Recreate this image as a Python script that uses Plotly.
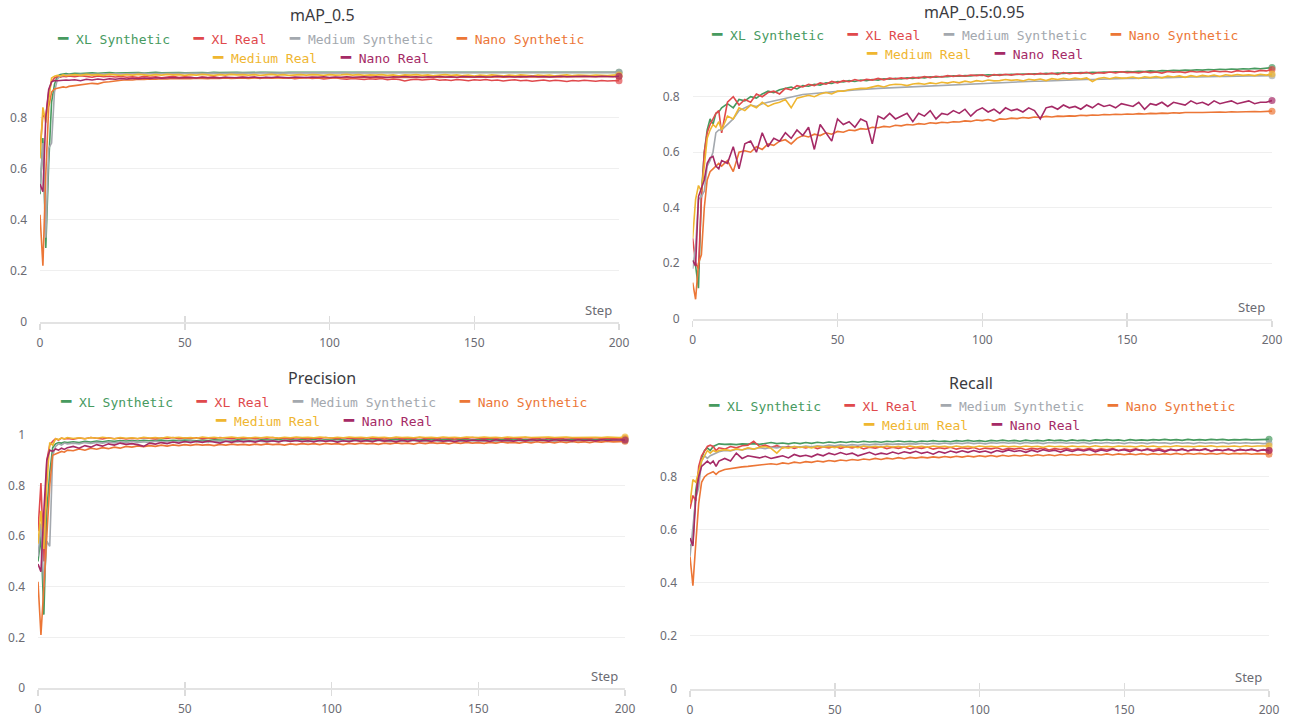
import plotly.graph_objects as go

# ---------------- data ----------------
STEPS = list(range(0, 11)) + list(range(12, 201, 2))

SERIES_NAMES = ["XL Synthetic", "XL Real", "Medium Synthetic", "Nano Synthetic", "Medium Real", "Nano Real"]
ROW1 = ["XL Synthetic", "XL Real", "Medium Synthetic", "Nano Synthetic"]
ROW2 = ["Medium Real", "Nano Real"]
COLORS = {
    "XL Synthetic": "#479A5F",
    "XL Real": "#E0494C",
    "Medium Synthetic": "#A3A8AE",
    "Nano Synthetic": "#EC7636",
    "Medium Real": "#EFB630",
    "Nano Real": "#A52A66",
}
PANEL_TITLES = ["mAP_0.5", "mAP_0.5:0.95", "Precision", "Recall"]
X_TICKS = [0, 50, 100, 150, 200]

# ---- mAP_0.5 ----
MAP50_XL_SYN = [0.50, 0.72, 0.29, 0.62, 0.86, 0.93, 0.962, 0.968, 0.97, 0.972, 0.97,
    0.973, 0.972, 0.974, 0.975, 0.973, 0.975, 0.976, 0.974, 0.975, 0.976,
    0.975, 0.976, 0.974, 0.976, 0.977, 0.975, 0.976, 0.977, 0.976, 0.975,
    0.976, 0.977, 0.976, 0.975, 0.977, 0.976, 0.977, 0.976, 0.977, 0.976,
    0.977, 0.976, 0.977, 0.977, 0.976, 0.977, 0.976, 0.977, 0.977, 0.976,
    0.977, 0.976, 0.977, 0.977, 0.976, 0.977, 0.977, 0.976, 0.977, 0.977,
    0.976, 0.977, 0.977, 0.976, 0.977, 0.977, 0.976, 0.977, 0.977, 0.976,
    0.977, 0.977, 0.976, 0.977, 0.977, 0.977, 0.976, 0.977, 0.977, 0.976,
    0.977, 0.977, 0.976, 0.977, 0.977, 0.977, 0.976, 0.977, 0.977, 0.977,
    0.976, 0.977, 0.977, 0.977, 0.976, 0.977, 0.977, 0.977, 0.976, 0.977,
    0.977, 0.977, 0.976, 0.977, 0.977]
MAP50_XL_REAL = [0.67, 0.81, 0.80, 0.90, 0.94, 0.955, 0.96, 0.958, 0.962, 0.96, 0.963,
    0.96, 0.964, 0.962, 0.958, 0.963, 0.96, 0.962, 0.959, 0.961, 0.958,
    0.96, 0.957, 0.961, 0.958, 0.96, 0.956, 0.959, 0.961, 0.957, 0.96,
    0.958, 0.955, 0.959, 0.957, 0.96, 0.956, 0.958, 0.954, 0.957, 0.959,
    0.956, 0.958, 0.953, 0.957, 0.955, 0.958, 0.954, 0.956, 0.952, 0.955,
    0.957, 0.953, 0.955, 0.951, 0.954, 0.956, 0.952, 0.95, 0.953, 0.951,
    0.949, 0.952, 0.95, 0.953, 0.948, 0.951, 0.949, 0.943, 0.948, 0.95,
    0.947, 0.949, 0.951, 0.946, 0.948, 0.945, 0.949, 0.947, 0.944, 0.948,
    0.946, 0.949, 0.945, 0.947, 0.943, 0.946, 0.948, 0.944, 0.946, 0.942,
    0.945, 0.947, 0.943, 0.946, 0.944, 0.941, 0.945, 0.943, 0.946, 0.944,
    0.942, 0.945, 0.943, 0.944, 0.944]
MAP50_MED_SYN = [0.51, 0.70, 0.33, 0.68, 0.70, 0.90, 0.95, 0.962, 0.965, 0.966, 0.968,
    0.967, 0.969, 0.968, 0.97, 0.969, 0.971, 0.97, 0.972, 0.971, 0.972,
    0.971, 0.972, 0.973, 0.972, 0.973, 0.972, 0.974, 0.973, 0.973, 0.974,
    0.973, 0.974, 0.973, 0.974, 0.974, 0.973, 0.974, 0.975, 0.974, 0.974,
    0.975, 0.974, 0.974, 0.975, 0.974, 0.975, 0.975, 0.974, 0.975, 0.975,
    0.974, 0.975, 0.975, 0.976, 0.975, 0.975, 0.976, 0.975, 0.975, 0.976,
    0.975, 0.976, 0.975, 0.976, 0.976, 0.975, 0.976, 0.976, 0.975, 0.976,
    0.976, 0.975, 0.976, 0.976, 0.976, 0.975, 0.976, 0.976, 0.977, 0.976,
    0.976, 0.977, 0.976, 0.976, 0.977, 0.976, 0.976, 0.977, 0.976, 0.977,
    0.976, 0.977, 0.977, 0.976, 0.977, 0.976, 0.977, 0.977, 0.976, 0.977,
    0.977, 0.976, 0.977, 0.977, 0.977]
MAP50_NANO_SYN = [0.42, 0.22, 0.58, 0.84, 0.90, 0.912, 0.915, 0.918, 0.92, 0.918, 0.922,
    0.925, 0.928, 0.93, 0.934, 0.932, 0.938, 0.94, 0.944, 0.946, 0.948,
    0.947, 0.95, 0.949, 0.951, 0.95, 0.952, 0.951, 0.953, 0.952, 0.953,
    0.952, 0.954, 0.953, 0.952, 0.954, 0.953, 0.955, 0.953, 0.954, 0.955,
    0.953, 0.955, 0.954, 0.956, 0.954, 0.955, 0.956, 0.954, 0.956, 0.955,
    0.956, 0.955, 0.957, 0.955, 0.956, 0.957, 0.955, 0.957, 0.956, 0.957,
    0.956, 0.958, 0.956, 0.957, 0.958, 0.956, 0.958, 0.957, 0.958, 0.957,
    0.958, 0.957, 0.959, 0.957, 0.958, 0.959, 0.957, 0.959, 0.958, 0.959,
    0.958, 0.959, 0.958, 0.96, 0.958, 0.959, 0.96, 0.958, 0.96, 0.959,
    0.96, 0.959, 0.96, 0.96, 0.959, 0.961, 0.96, 0.96, 0.961, 0.96,
    0.961, 0.96, 0.961, 0.96, 0.961]
MAP50_MED_REAL = [0.64, 0.84, 0.78, 0.87, 0.955, 0.962, 0.965, 0.963, 0.967, 0.964, 0.966,
    0.968, 0.965, 0.969, 0.966, 0.968, 0.965, 0.969, 0.967, 0.965, 0.968,
    0.966, 0.969, 0.967, 0.965, 0.968, 0.966, 0.969, 0.967, 0.968, 0.965,
    0.968, 0.966, 0.969, 0.967, 0.965, 0.968, 0.966, 0.969, 0.967, 0.968,
    0.966, 0.968, 0.965, 0.967, 0.969, 0.966, 0.968, 0.965, 0.967, 0.968,
    0.966, 0.968, 0.967, 0.965, 0.968, 0.966, 0.967, 0.969, 0.966, 0.968,
    0.965, 0.967, 0.966, 0.968, 0.965, 0.967, 0.964, 0.967, 0.966, 0.968,
    0.965, 0.967, 0.964, 0.966, 0.968, 0.965, 0.967, 0.964, 0.966, 0.963,
    0.966, 0.964, 0.967, 0.965, 0.963, 0.966, 0.964, 0.967, 0.965, 0.963,
    0.966, 0.964, 0.966, 0.963, 0.965, 0.967, 0.964, 0.966, 0.965, 0.964,
    0.966, 0.965, 0.964, 0.966, 0.967]
MAP50_NANO_REAL = [0.54, 0.51, 0.80, 0.91, 0.94, 0.945, 0.944, 0.946, 0.945, 0.947, 0.946,
    0.948, 0.944, 0.95, 0.947, 0.951, 0.948, 0.952, 0.95, 0.953, 0.951,
    0.954, 0.952, 0.955, 0.953, 0.956, 0.954, 0.955, 0.957, 0.955, 0.956,
    0.957, 0.955, 0.958, 0.956, 0.957, 0.955, 0.958, 0.957, 0.956, 0.958,
    0.957, 0.959, 0.956, 0.958, 0.957, 0.959, 0.958, 0.956, 0.959, 0.958,
    0.957, 0.959, 0.958, 0.96, 0.957, 0.959, 0.958, 0.96, 0.958, 0.959,
    0.96, 0.958, 0.96, 0.959, 0.957, 0.96, 0.959, 0.961, 0.959, 0.96,
    0.958, 0.96, 0.959, 0.961, 0.959, 0.96, 0.958, 0.961, 0.96, 0.959,
    0.961, 0.959, 0.96, 0.962, 0.96, 0.961, 0.959, 0.961, 0.96, 0.962,
    0.96, 0.961, 0.959, 0.961, 0.962, 0.96, 0.961, 0.96, 0.962, 0.961,
    0.96, 0.962, 0.961, 0.96, 0.962]

# ---- mAP_0.5:0.95 ----
MAP95_XL_SYN = [0.21, 0.19, 0.11, 0.45, 0.60, 0.68, 0.72, 0.70, 0.74, 0.745, 0.76,
    0.775, 0.76, 0.79, 0.785, 0.80, 0.795, 0.81, 0.82, 0.815, 0.825,
    0.83, 0.835, 0.828, 0.84, 0.838, 0.845, 0.842, 0.85, 0.848, 0.855,
    0.853, 0.858, 0.855, 0.86, 0.858, 0.862, 0.86, 0.865, 0.863, 0.866,
    0.864, 0.868, 0.866, 0.87, 0.868, 0.872, 0.87, 0.873, 0.872, 0.875,
    0.874, 0.876, 0.875, 0.878, 0.877, 0.879, 0.878, 0.88, 0.879, 0.881,
    0.88, 0.882, 0.881, 0.883, 0.882, 0.884, 0.883, 0.885, 0.884, 0.886,
    0.885, 0.887, 0.886, 0.888, 0.887, 0.889, 0.888, 0.89, 0.889, 0.891,
    0.89, 0.892, 0.891, 0.893, 0.892, 0.894, 0.893, 0.895, 0.894, 0.896,
    0.895, 0.897, 0.896, 0.898, 0.897, 0.899, 0.898, 0.9, 0.899, 0.901,
    0.9, 0.902, 0.901, 0.903, 0.905]
MAP95_XL_REAL = [0.29, 0.20, 0.18, 0.43, 0.60, 0.67, 0.70, 0.72, 0.74, 0.75, 0.67,
    0.78, 0.80, 0.77, 0.79, 0.78, 0.81, 0.80, 0.815, 0.82, 0.81,
    0.83, 0.825, 0.84, 0.835, 0.845, 0.84, 0.85, 0.845, 0.855, 0.85,
    0.858, 0.854, 0.862, 0.857, 0.863, 0.86, 0.866, 0.861, 0.867, 0.864,
    0.868, 0.865, 0.87, 0.867, 0.873, 0.869, 0.874, 0.871, 0.876, 0.873,
    0.877, 0.874, 0.878, 0.876, 0.879, 0.872, 0.88, 0.877, 0.881, 0.878,
    0.882, 0.879, 0.883, 0.88, 0.884, 0.881, 0.885, 0.88, 0.887, 0.883,
    0.886, 0.884, 0.888, 0.882, 0.887, 0.885, 0.889, 0.886, 0.89, 0.887,
    0.888, 0.886, 0.89, 0.887, 0.889, 0.885, 0.891, 0.888, 0.89, 0.887,
    0.892, 0.889, 0.891, 0.888, 0.893, 0.89, 0.892, 0.888, 0.894, 0.891,
    0.893, 0.89, 0.895, 0.893, 0.898]
MAP95_MED_SYN = [0.18, 0.26, 0.43, 0.44, 0.46, 0.55, 0.57, 0.60, 0.67, 0.68, 0.68,
    0.70, 0.72, 0.75, 0.76, 0.77, 0.765, 0.775, 0.78, 0.785, 0.79,
    0.795, 0.80, 0.805, 0.808, 0.81, 0.812, 0.815, 0.817, 0.818, 0.82,
    0.821, 0.823, 0.824, 0.826, 0.827, 0.828, 0.83, 0.831, 0.832, 0.834,
    0.835, 0.836, 0.837, 0.838, 0.839, 0.84, 0.841, 0.842, 0.843, 0.844,
    0.845, 0.846, 0.847, 0.848, 0.849, 0.85, 0.851, 0.851, 0.852, 0.853,
    0.854, 0.854, 0.855, 0.856, 0.856, 0.857, 0.858, 0.858, 0.859, 0.86,
    0.86, 0.861, 0.862, 0.862, 0.863, 0.863, 0.864, 0.865, 0.865, 0.866,
    0.866, 0.867, 0.867, 0.868, 0.868, 0.869, 0.869, 0.87, 0.87, 0.871,
    0.871, 0.871, 0.872, 0.872, 0.873, 0.873, 0.873, 0.874, 0.874, 0.875,
    0.875, 0.875, 0.876, 0.876, 0.876]
MAP95_NANO_SYN = [0.13, 0.07, 0.20, 0.23, 0.40, 0.50, 0.53, 0.54, 0.55, 0.56, 0.55,
    0.57, 0.53, 0.60, 0.605, 0.60, 0.62, 0.61, 0.63, 0.625, 0.64,
    0.645, 0.63, 0.65, 0.66, 0.655, 0.665, 0.66, 0.67, 0.665, 0.675,
    0.672, 0.68, 0.678, 0.685, 0.683, 0.69, 0.688, 0.693, 0.691, 0.697,
    0.695, 0.70, 0.698, 0.703, 0.701, 0.706, 0.704, 0.708, 0.706, 0.71,
    0.709, 0.713, 0.711, 0.716, 0.714, 0.718, 0.712, 0.72, 0.719, 0.723,
    0.721, 0.725, 0.723, 0.727, 0.725, 0.729, 0.727, 0.73, 0.729, 0.731,
    0.73, 0.733, 0.732, 0.734, 0.733, 0.736, 0.735, 0.737, 0.736, 0.738,
    0.737, 0.739, 0.738, 0.74, 0.739, 0.741, 0.74, 0.742, 0.741, 0.743,
    0.742, 0.743, 0.743, 0.744, 0.744, 0.745, 0.744, 0.746, 0.745, 0.746,
    0.746, 0.747, 0.746, 0.747, 0.748]
MAP95_MED_REAL = [0.29, 0.43, 0.48, 0.46, 0.55, 0.65, 0.68, 0.70, 0.69, 0.71, 0.68,
    0.73, 0.72, 0.76, 0.75, 0.77, 0.76, 0.78, 0.765, 0.775, 0.78,
    0.79, 0.76, 0.795, 0.80, 0.805, 0.80, 0.81, 0.815, 0.81, 0.82,
    0.82, 0.825, 0.828, 0.83, 0.83, 0.835, 0.84, 0.835, 0.842, 0.845,
    0.844, 0.84, 0.846, 0.848, 0.845, 0.85, 0.847, 0.852, 0.849, 0.854,
    0.85, 0.856, 0.852, 0.858, 0.855, 0.86, 0.857, 0.858, 0.862, 0.859,
    0.861, 0.857, 0.863, 0.86, 0.864, 0.858, 0.865, 0.862, 0.866, 0.863,
    0.867, 0.864, 0.868, 0.855, 0.866, 0.869, 0.865, 0.87, 0.867, 0.868,
    0.871, 0.866, 0.872, 0.869, 0.873, 0.868, 0.874, 0.871, 0.875, 0.87,
    0.876, 0.872, 0.877, 0.874, 0.878, 0.873, 0.879, 0.876, 0.88, 0.877,
    0.879, 0.876, 0.881, 0.878, 0.882]
MAP95_NANO_REAL = [0.21, 0.19, 0.44, 0.47, 0.50, 0.56, 0.58, 0.585, 0.55, 0.54, 0.57,
    0.56, 0.62, 0.54, 0.63, 0.64, 0.60, 0.67, 0.62, 0.65, 0.64,
    0.67, 0.65, 0.68, 0.66, 0.69, 0.61, 0.70, 0.67, 0.64, 0.72,
    0.70, 0.71, 0.69, 0.72, 0.71, 0.63, 0.73, 0.72, 0.74, 0.72,
    0.73, 0.74, 0.71, 0.74, 0.73, 0.75, 0.72, 0.74, 0.735, 0.75,
    0.74, 0.755, 0.73, 0.75, 0.76, 0.745, 0.755, 0.74, 0.76, 0.75,
    0.755, 0.745, 0.76, 0.75, 0.72, 0.76, 0.765, 0.755, 0.77, 0.76,
    0.765, 0.755, 0.77, 0.76, 0.775, 0.765, 0.77, 0.76, 0.775, 0.77,
    0.765, 0.78, 0.755, 0.775, 0.77, 0.78, 0.765, 0.78, 0.775, 0.77,
    0.785, 0.775, 0.78, 0.77, 0.785, 0.775, 0.78, 0.785, 0.775, 0.78,
    0.785, 0.775, 0.78, 0.78, 0.786]

# ---- Precision ----
P_XL_SYN = [0.50, 0.60, 0.29, 0.70, 0.85, 0.95, 0.965, 0.97, 0.968, 0.972, 0.97,
    0.973, 0.97, 0.975, 0.972, 0.976, 0.973, 0.977, 0.975, 0.978, 0.976,
    0.978, 0.976, 0.979, 0.977, 0.978, 0.98, 0.977, 0.979, 0.978, 0.98,
    0.979, 0.977, 0.98, 0.978, 0.981, 0.979, 0.98, 0.978, 0.981, 0.979,
    0.98, 0.978, 0.981, 0.979, 0.98, 0.982, 0.979, 0.981, 0.98, 0.982,
    0.98, 0.982, 0.979, 0.981, 0.98, 0.982, 0.981, 0.979, 0.982, 0.98,
    0.981, 0.98, 0.982, 0.979, 0.981, 0.983, 0.98, 0.982, 0.98, 0.981,
    0.979, 0.982, 0.98, 0.981, 0.983, 0.98, 0.982, 0.981, 0.98, 0.982,
    0.981, 0.983, 0.98, 0.982, 0.981, 0.983, 0.98, 0.982, 0.981, 0.983,
    0.98, 0.982, 0.981, 0.983, 0.981, 0.982, 0.98, 0.983, 0.982, 0.981,
    0.983, 0.981, 0.982, 0.98, 0.982]
P_XL_REAL = [0.62, 0.81, 0.50, 0.90, 0.96, 0.975, 0.985, 0.98, 0.988, 0.984, 0.986,
    0.983, 0.988, 0.985, 0.99, 0.986, 0.984, 0.989, 0.985, 0.988, 0.984,
    0.987, 0.985, 0.989, 0.986, 0.984, 0.988, 0.986, 0.99, 0.985, 0.988,
    0.986, 0.989, 0.985, 0.988, 0.986, 0.99, 0.987, 0.985, 0.989, 0.986,
    0.988, 0.985, 0.989, 0.987, 0.99, 0.986, 0.988, 0.985, 0.989, 0.987,
    0.985, 0.988, 0.986, 0.99, 0.987, 0.985, 0.989, 0.986, 0.988, 0.985,
    0.989, 0.986, 0.988, 0.984, 0.987, 0.989, 0.985, 0.988, 0.986, 0.99,
    0.986, 0.988, 0.985, 0.989, 0.987, 0.984, 0.988, 0.986, 0.99, 0.987,
    0.985, 0.988, 0.986, 0.989, 0.985, 0.988, 0.986, 0.99, 0.987, 0.985,
    0.989, 0.986, 0.988, 0.985, 0.989, 0.987, 0.985, 0.988, 0.986, 0.989,
    0.986, 0.988, 0.985, 0.987, 0.986]
P_MED_SYN = [0.52, 0.65, 0.40, 0.58, 0.56, 0.92, 0.955, 0.965, 0.96, 0.968, 0.965,
    0.968, 0.965, 0.97, 0.967, 0.971, 0.968, 0.972, 0.969, 0.973, 0.97,
    0.974, 0.971, 0.973, 0.97, 0.975, 0.972, 0.974, 0.971, 0.975, 0.973,
    0.976, 0.973, 0.975, 0.972, 0.976, 0.974, 0.977, 0.975, 0.973, 0.976,
    0.974, 0.977, 0.975, 0.973, 0.976, 0.974, 0.977, 0.975, 0.978, 0.976,
    0.974, 0.977, 0.975, 0.978, 0.976, 0.974, 0.977, 0.975, 0.978, 0.976,
    0.977, 0.975, 0.978, 0.976, 0.974, 0.977, 0.975, 0.978, 0.976, 0.977,
    0.975, 0.978, 0.976, 0.974, 0.977, 0.976, 0.978, 0.975, 0.977, 0.976,
    0.978, 0.976, 0.974, 0.977, 0.975, 0.978, 0.976, 0.977, 0.975, 0.978,
    0.976, 0.978, 0.975, 0.977, 0.976, 0.974, 0.977, 0.975, 0.978, 0.976,
    0.977, 0.975, 0.978, 0.976, 0.977]
P_NANO_SYN = [0.42, 0.21, 0.40, 0.60, 0.80, 0.92, 0.925, 0.93, 0.935, 0.932, 0.94,
    0.938, 0.945, 0.94, 0.948, 0.944, 0.95, 0.946, 0.952, 0.948, 0.955,
    0.952, 0.957, 0.954, 0.958, 0.955, 0.96, 0.956, 0.961, 0.958, 0.962,
    0.959, 0.963, 0.96, 0.962, 0.958, 0.963, 0.96, 0.964, 0.961, 0.963,
    0.96, 0.964, 0.961, 0.965, 0.962, 0.964, 0.96, 0.965, 0.962, 0.966,
    0.963, 0.966, 0.962, 0.967, 0.964, 0.966, 0.962, 0.967, 0.964, 0.968,
    0.965, 0.967, 0.963, 0.968, 0.965, 0.969, 0.966, 0.968, 0.964, 0.969,
    0.966, 0.97, 0.967, 0.969, 0.965, 0.97, 0.967, 0.971, 0.968, 0.97,
    0.967, 0.971, 0.968, 0.972, 0.969, 0.971, 0.968, 0.972, 0.969, 0.973,
    0.97, 0.972, 0.969, 0.973, 0.97, 0.974, 0.971, 0.973, 0.97, 0.974,
    0.972, 0.975, 0.973, 0.974, 0.975]
P_MED_REAL = [0.57, 0.70, 0.55, 0.80, 0.97, 0.96, 0.985, 0.982, 0.988, 0.985, 0.99,
    0.986, 0.989, 0.985, 0.99, 0.987, 0.991, 0.988, 0.985, 0.99, 0.987,
    0.989, 0.986, 0.991, 0.988, 0.99, 0.987, 0.992, 0.989, 0.991, 0.988,
    0.99, 0.987, 0.992, 0.989, 0.991, 0.988, 0.99, 0.992, 0.989, 0.991,
    0.988, 0.991, 0.989, 0.992, 0.99, 0.988, 0.991, 0.989, 0.992, 0.99,
    0.991, 0.989, 0.992, 0.99, 0.988, 0.991, 0.989, 0.992, 0.99, 0.991,
    0.989, 0.992, 0.99, 0.991, 0.988, 0.992, 0.99, 0.991, 0.989, 0.992,
    0.99, 0.991, 0.989, 0.992, 0.99, 0.991, 0.989, 0.992, 0.991, 0.99,
    0.992, 0.99, 0.991, 0.989, 0.992, 0.99, 0.991, 0.992, 0.99, 0.991,
    0.989, 0.992, 0.99, 0.991, 0.992, 0.99, 0.991, 0.989, 0.992, 0.991,
    0.99, 0.992, 0.991, 0.99, 0.992]
P_NANO_REAL = [0.49, 0.46, 0.70, 0.90, 0.94, 0.935, 0.945, 0.94, 0.948, 0.943, 0.95,
    0.955, 0.948, 0.958, 0.952, 0.962, 0.956, 0.965, 0.96, 0.968, 0.963,
    0.966, 0.962, 0.955, 0.968, 0.964, 0.97, 0.966, 0.972, 0.968, 0.974,
    0.97, 0.975, 0.971, 0.976, 0.972, 0.968, 0.975, 0.971, 0.977, 0.973,
    0.976, 0.972, 0.978, 0.974, 0.977, 0.973, 0.979, 0.975, 0.978, 0.974,
    0.977, 0.973, 0.979, 0.975, 0.978, 0.972, 0.977, 0.974, 0.979, 0.975,
    0.978, 0.974, 0.98, 0.976, 0.978, 0.973, 0.979, 0.975, 0.98, 0.976,
    0.979, 0.975, 0.98, 0.976, 0.978, 0.974, 0.979, 0.976, 0.98, 0.977,
    0.979, 0.975, 0.981, 0.977, 0.979, 0.976, 0.98, 0.977, 0.981, 0.978,
    0.98, 0.976, 0.981, 0.978, 0.98, 0.977, 0.981, 0.978, 0.98, 0.977,
    0.981, 0.978, 0.98, 0.979, 0.98]

# ---- Recall ----
R_XL_SYN = [0.54, 0.55, 0.75, 0.82, 0.87, 0.90, 0.91, 0.90, 0.915, 0.92, 0.925,
    0.923, 0.924, 0.922, 0.925, 0.924, 0.926, 0.923, 0.927, 0.93, 0.926,
    0.928, 0.925, 0.929, 0.926, 0.93, 0.927, 0.931, 0.928, 0.932, 0.929,
    0.933, 0.93, 0.934, 0.931, 0.935, 0.932, 0.934, 0.931, 0.935, 0.933,
    0.936, 0.933, 0.935, 0.932, 0.936, 0.934, 0.937, 0.934, 0.936, 0.933,
    0.937, 0.935, 0.938, 0.935, 0.937, 0.934, 0.938, 0.936, 0.939, 0.936,
    0.938, 0.935, 0.939, 0.936, 0.938, 0.936, 0.94, 0.937, 0.939, 0.936,
    0.94, 0.937, 0.939, 0.936, 0.94, 0.938, 0.941, 0.938, 0.94, 0.937,
    0.941, 0.938, 0.94, 0.938, 0.941, 0.939, 0.942, 0.939, 0.941, 0.938,
    0.942, 0.939, 0.941, 0.939, 0.942, 0.94, 0.942, 0.939, 0.941, 0.94,
    0.942, 0.94, 0.941, 0.94, 0.942]
R_XL_REAL = [0.68, 0.73, 0.71, 0.84, 0.88, 0.90, 0.915, 0.92, 0.915, 0.90, 0.91,
    0.905, 0.915, 0.91, 0.918, 0.92, 0.935, 0.915, 0.92, 0.912, 0.918,
    0.91, 0.916, 0.908, 0.914, 0.91, 0.915, 0.907, 0.913, 0.91, 0.916,
    0.908, 0.914, 0.91, 0.915, 0.906, 0.912, 0.909, 0.914, 0.907, 0.912,
    0.908, 0.913, 0.906, 0.911, 0.908, 0.913, 0.905, 0.91, 0.907, 0.912,
    0.905, 0.91, 0.907, 0.911, 0.904, 0.909, 0.906, 0.91, 0.903, 0.908,
    0.905, 0.909, 0.903, 0.908, 0.905, 0.91, 0.902, 0.907, 0.904, 0.908,
    0.902, 0.906, 0.903, 0.908, 0.901, 0.906, 0.903, 0.907, 0.9, 0.905,
    0.902, 0.906, 0.9, 0.905, 0.902, 0.907, 0.899, 0.904, 0.901, 0.905,
    0.899, 0.904, 0.901, 0.905, 0.898, 0.903, 0.9, 0.904, 0.899, 0.903,
    0.9, 0.904, 0.899, 0.902, 0.9]
R_MED_SYN = [0.50, 0.60, 0.72, 0.76, 0.86, 0.88, 0.87, 0.88, 0.885, 0.89, 0.895,
    0.9, 0.898, 0.905, 0.902, 0.908, 0.905, 0.91, 0.907, 0.912, 0.91,
    0.914, 0.911, 0.915, 0.913, 0.917, 0.914, 0.918, 0.916, 0.92, 0.918,
    0.921, 0.919, 0.922, 0.92, 0.923, 0.921, 0.924, 0.922, 0.925, 0.923,
    0.925, 0.923, 0.926, 0.924, 0.927, 0.924, 0.927, 0.925, 0.928, 0.925,
    0.928, 0.926, 0.929, 0.926, 0.928, 0.925, 0.929, 0.927, 0.93, 0.927,
    0.929, 0.926, 0.93, 0.927, 0.929, 0.926, 0.93, 0.928, 0.93, 0.927,
    0.929, 0.927, 0.93, 0.926, 0.929, 0.927, 0.93, 0.927, 0.929, 0.926,
    0.93, 0.927, 0.929, 0.926, 0.93, 0.928, 0.929, 0.926, 0.93, 0.927,
    0.929, 0.926, 0.93, 0.927, 0.929, 0.927, 0.93, 0.926, 0.929, 0.927,
    0.929, 0.927, 0.928, 0.926, 0.927]
R_NANO_SYN = [0.50, 0.39, 0.55, 0.70, 0.78, 0.80, 0.81, 0.815, 0.82, 0.81, 0.82,
    0.828, 0.832, 0.835, 0.838, 0.84, 0.843, 0.845, 0.848, 0.85, 0.847,
    0.853, 0.85, 0.856, 0.853, 0.858, 0.855, 0.86, 0.857, 0.862, 0.859,
    0.864, 0.861, 0.866, 0.863, 0.868, 0.865, 0.87, 0.866, 0.871, 0.868,
    0.873, 0.869, 0.874, 0.871, 0.875, 0.872, 0.876, 0.873, 0.877, 0.874,
    0.878, 0.875, 0.879, 0.876, 0.88, 0.877, 0.881, 0.877, 0.882, 0.878,
    0.882, 0.879, 0.883, 0.879, 0.884, 0.88, 0.884, 0.88, 0.885, 0.881,
    0.885, 0.882, 0.886, 0.882, 0.886, 0.883, 0.887, 0.883, 0.887, 0.884,
    0.887, 0.884, 0.888, 0.884, 0.888, 0.885, 0.888, 0.885, 0.889, 0.885,
    0.889, 0.886, 0.889, 0.886, 0.889, 0.886, 0.89, 0.886, 0.889, 0.887,
    0.889, 0.886, 0.888, 0.887, 0.886]
R_MED_REAL = [0.70, 0.79, 0.78, 0.82, 0.86, 0.88, 0.90, 0.89, 0.90, 0.895, 0.90,
    0.903, 0.9, 0.906, 0.902, 0.91, 0.905, 0.912, 0.915, 0.908, 0.89,
    0.912, 0.909, 0.915, 0.911, 0.914, 0.91, 0.916, 0.912, 0.915, 0.911,
    0.916, 0.912, 0.915, 0.911, 0.917, 0.913, 0.916, 0.912, 0.917, 0.913,
    0.916, 0.912, 0.917, 0.913, 0.916, 0.912, 0.917, 0.914, 0.916, 0.912,
    0.917, 0.913, 0.916, 0.912, 0.917, 0.914, 0.916, 0.913, 0.917, 0.914,
    0.916, 0.913, 0.917, 0.914, 0.916, 0.912, 0.917, 0.914, 0.916, 0.913,
    0.917, 0.914, 0.916, 0.913, 0.918, 0.914, 0.916, 0.913, 0.917, 0.915,
    0.916, 0.913, 0.918, 0.914, 0.917, 0.913, 0.916, 0.914, 0.918, 0.915,
    0.916, 0.914, 0.917, 0.915, 0.918, 0.914, 0.916, 0.915, 0.917, 0.914,
    0.918, 0.915, 0.917, 0.916, 0.917]
R_NANO_REAL = [0.57, 0.54, 0.72, 0.80, 0.84, 0.85, 0.86, 0.85, 0.86, 0.84, 0.86,
    0.87, 0.86, 0.89, 0.87, 0.88, 0.875, 0.872, 0.878, 0.87, 0.875,
    0.88, 0.872, 0.885, 0.878, 0.882, 0.876, 0.886, 0.88, 0.89, 0.884,
    0.892, 0.885, 0.89, 0.88, 0.887, 0.893, 0.884, 0.89, 0.886, 0.894,
    0.888, 0.895, 0.89, 0.897, 0.889, 0.894, 0.886, 0.896, 0.89, 0.898,
    0.892, 0.899, 0.893, 0.9, 0.894, 0.898, 0.891, 0.9, 0.895, 0.902,
    0.896, 0.9, 0.893, 0.901, 0.895, 0.903, 0.897, 0.901, 0.894, 0.902,
    0.896, 0.903, 0.898, 0.904, 0.895, 0.902, 0.897, 0.905, 0.899, 0.903,
    0.896, 0.904, 0.899, 0.905, 0.897, 0.902, 0.895, 0.904, 0.899, 0.905,
    0.898, 0.904, 0.9, 0.906, 0.897, 0.903, 0.899, 0.905, 0.898, 0.904,
    0.9, 0.905, 0.898, 0.903, 0.9]

PANEL_DATA = [
    [MAP50_XL_SYN, MAP50_XL_REAL, MAP50_MED_SYN, MAP50_NANO_SYN, MAP50_MED_REAL, MAP50_NANO_REAL],
    [MAP95_XL_SYN, MAP95_XL_REAL, MAP95_MED_SYN, MAP95_NANO_SYN, MAP95_MED_REAL, MAP95_NANO_REAL],
    [P_XL_SYN, P_XL_REAL, P_MED_SYN, P_NANO_SYN, P_MED_REAL, P_NANO_REAL],
    [R_XL_SYN, R_XL_REAL, R_MED_SYN, R_NANO_SYN, R_MED_REAL, R_NANO_REAL],
]
for panel in PANEL_DATA:
    for s in panel:
        assert len(s) == len(STEPS), (len(s), len(STEPS))

# ---------------- layout geometry ----------------
W, H = 1294, 718
PANELS = [
    dict(x0=40, x1=619, yb=322, yt=70.3, ymax=0.985, tx=322, ty=15, lx=320, r1=38, r2=57),
    dict(x0=692.7, x1=1272, yb=318.7, yt=66.2, ymax=0.91, tx=974, ty=12, lx=975, r1=34, r2=53),
    dict(x0=38, x1=625, yb=688, yt=435, ymax=1.0, tx=322, ty=378, lx=323, r1=401, r2=420),
    dict(x0=690, x1=1269, yb=689, yt=435.9, ymax=0.955, tx=971, ty=383, lx=972, r1=405, r2=424),
]

fig = go.Figure()

TICK_FONT = dict(family="Noto Sans", size=12, color="#6b6b73")
LEG_FONT = dict(family="DejaVu Sans Mono", size=13)
AXIS_GRAY = "#dcdcdc"


def legend_row(names):
    parts = []
    for n in names:
        c = COLORS[n]
        parts.append(
            f"<span style='color:{c}'><span style='font-size:17px'>\u2501</span>\u00a0{n}</span>"
        )
    return "\u00a0\u00a0\u00a0".join(parts)


annotations = []
layout_axes = {}
for i, (p, data) in enumerate(zip(PANELS, PANEL_DATA)):
    k = "" if i == 0 else str(i + 1)
    xa, ya = "x" + k, "y" + k
    xo = "x" + str(i + 5)  # overlay axis carrying the upward half of the tick marks
    n = len(STEPS)
    for name, vals in zip(SERIES_NAMES, data):
        fig.add_trace(go.Scatter(
            x=STEPS, y=vals, name=name, mode="lines+markers",
            line=dict(color=COLORS[name], width=1.6),
            marker=dict(size=[0] * (n - 1) + [7], color=COLORS[name], line=dict(width=0)),
            xaxis=xa, yaxis=ya, showlegend=False, cliponaxis=False, hoverinfo="skip",
        ))
    fig.add_trace(go.Scatter(x=[], y=[], xaxis=xo, yaxis=ya, showlegend=False, hoverinfo="skip"))
    layout_axes["xaxis" + k] = dict(
        domain=[p["x0"] / W, p["x1"] / W], range=[0, 200], anchor=ya,
        tickvals=X_TICKS, showgrid=False, zeroline=False,
        showline=True, linecolor="#e3e3e3", linewidth=2,
        ticks="outside", ticklen=6, tickwidth=1.5, tickcolor=AXIS_GRAY,
        tickfont=TICK_FONT, ticklabelstandoff=3, automargin=False,
    )
    layout_axes["xaxis" + str(i + 5)] = dict(
        overlaying=xa, anchor=ya, range=[0, 200], tickvals=X_TICKS,
        showticklabels=False, showgrid=False, zeroline=False, showline=False,
        ticks="inside", ticklen=6, tickwidth=1.5, tickcolor=AXIS_GRAY, automargin=False,
    )
    layout_axes["yaxis" + k] = dict(
        domain=[1 - p["yb"] / H, 1 - p["yt"] / H], range=[0, p["ymax"]], anchor=xa,
        dtick=0.2, tick0=0, showgrid=True, gridcolor="#efefef", gridwidth=1,
        zeroline=False, showline=False, ticks="", tickfont=TICK_FONT,
        ticklabelstandoff=12, automargin=False,
    )
    annotations.append(dict(
        text=PANEL_TITLES[i], x=p["tx"] / W, y=1 - p["ty"] / H, xref="paper", yref="paper",
        xanchor="center", yanchor="middle", showarrow=False,
        font=dict(family="Noto Sans", size=16, color="#3b3b3f"),
    ))
    annotations.append(dict(
        text=legend_row(ROW1), x=p["lx"] / W, y=1 - p["r1"] / H, xref="paper", yref="paper",
        xanchor="center", yanchor="middle", showarrow=False, font=LEG_FONT,
    ))
    annotations.append(dict(
        text=legend_row(ROW2), x=p["lx"] / W, y=1 - p["r2"] / H, xref="paper", yref="paper",
        xanchor="center", yanchor="middle", showarrow=False, font=LEG_FONT,
    ))
    annotations.append(dict(
        text="Step", x=1, y=0, xref=xa + " domain", yref=ya + " domain",
        xanchor="right", yanchor="bottom", xshift=-5, yshift=1, showarrow=False,
        font=dict(family="Noto Sans", size=13, color="#6b6b73"),
    ))

fig.update_layout(**layout_axes)
fig.update_layout(
    width=W, height=H, margin=dict(l=0, r=0, t=0, b=0, autoexpand=False),
    paper_bgcolor="white", plot_bgcolor="white",
    annotations=annotations, showlegend=False, hovermode=False,
)

fig.write_html(
    "out.html",
    config={"displayModeBar": False, "staticPlot": True},
    post_script="document.body.style.margin='0';document.body.style.overflow='hidden';",
)
